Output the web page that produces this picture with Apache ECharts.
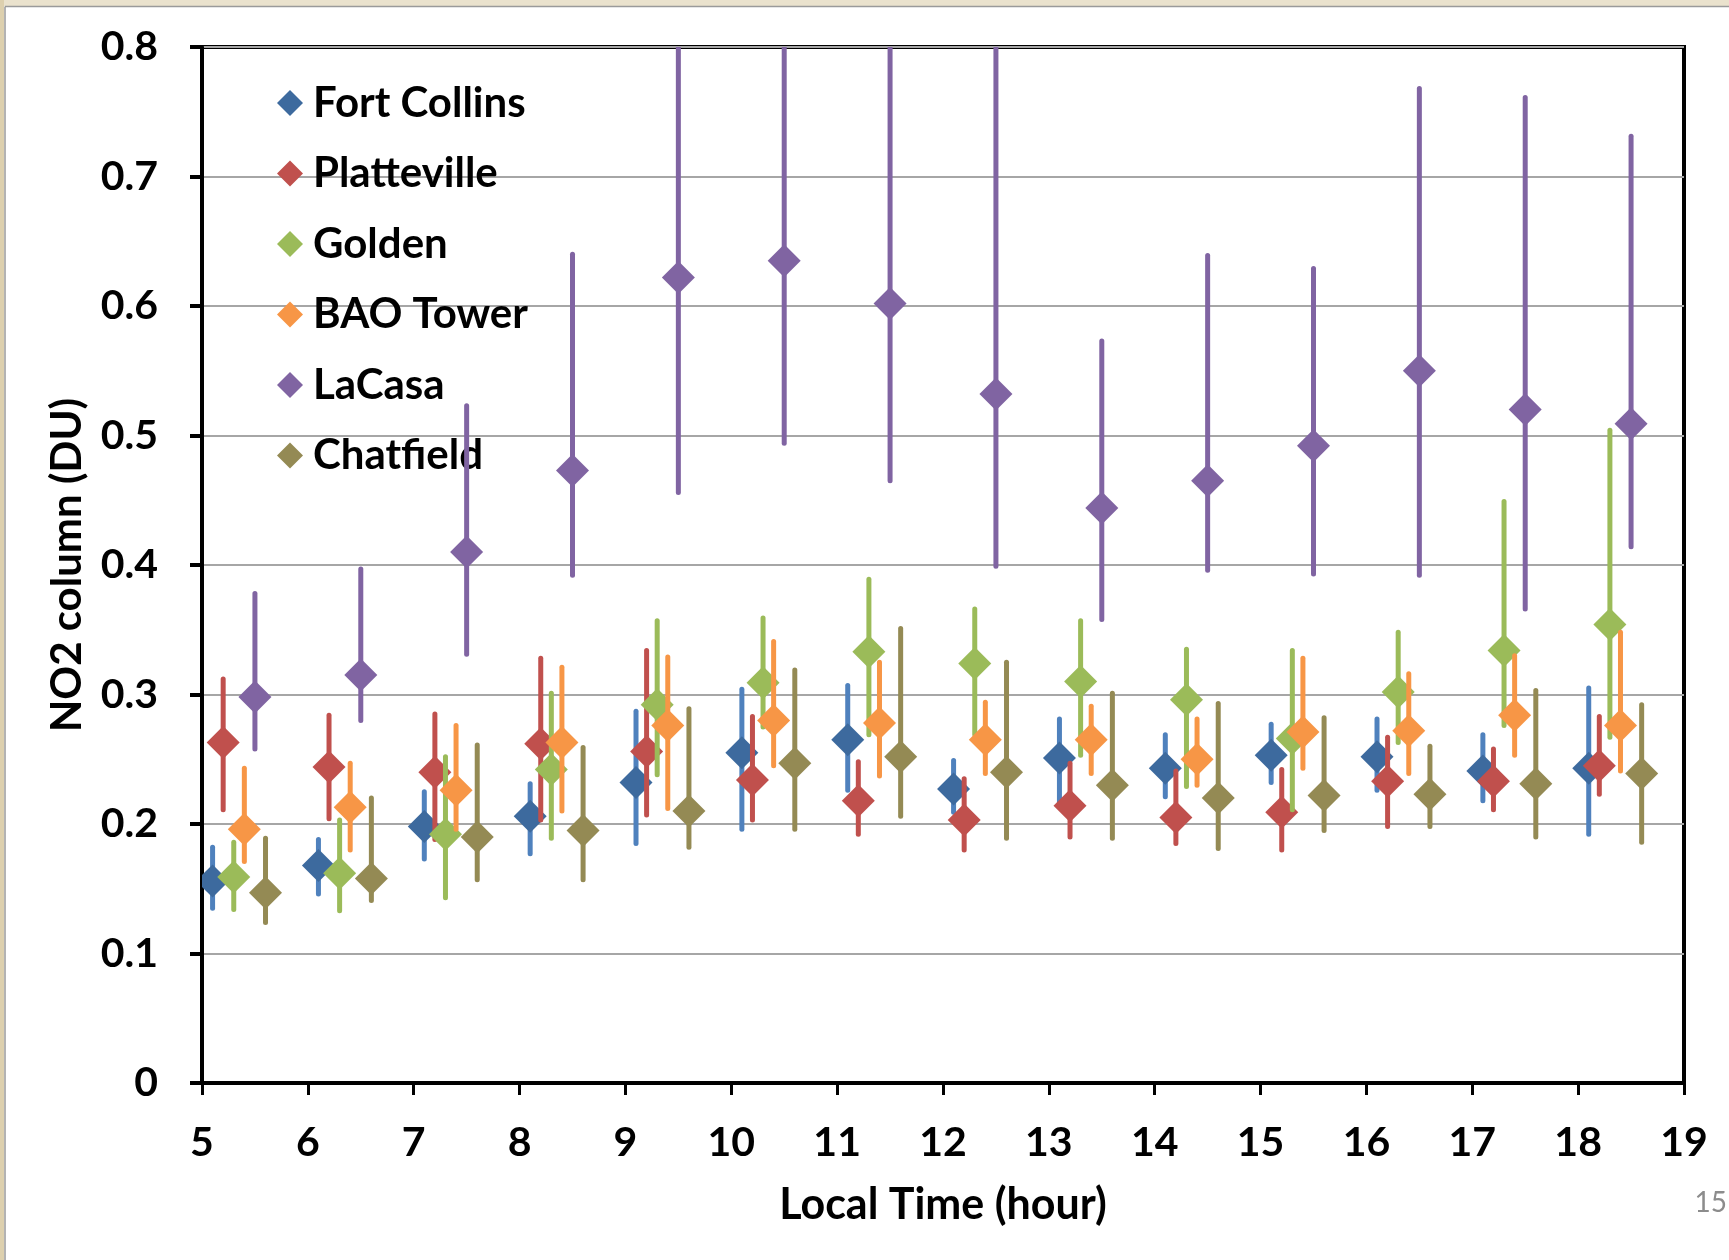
<!DOCTYPE html>
<html>
<head>
<meta charset="utf-8">
<title>NO2 column by local time</title>
<script src="https://cdn.jsdelivr.net/npm/echarts@6/dist/echarts.min.js"></script>
<style>
  html, body { margin: 0; padding: 0; background: #ffffff; }
  #chart { width: 1729px; height: 1260px; }
</style>
</head>
<body>
<div id="chart"></div>
<script>
// Hour bins (local time) and station order
const hours = [5, 6, 7, 8, 9, 10, 11, 12, 13, 14, 15, 16, 17, 18];
const stations = ['Fort Collins', 'Platteville', 'Golden', 'BAO Tower', 'LaCasa', 'Chatfield'];
const yTicks = [0, 0.1, 0.2, 0.3, 0.4, 0.5, 0.6, 0.7, 0.8];

// Mean NO2 column (DU) with lower / upper error bar ends
const fortCollinsMean = [0.156, 0.168, 0.198, 0.206, 0.232, 0.255, 0.265, 0.227, 0.251, 0.243, 0.253, 0.252, 0.241, 0.243];
const fortCollinsLow  = [0.135, 0.146, 0.173, 0.177, 0.185, 0.196, 0.226, 0.209, 0.216, 0.221, 0.232, 0.226, 0.218, 0.192];
const fortCollinsHigh = [0.182, 0.188, 0.225, 0.231, 0.287, 0.304, 0.307, 0.249, 0.281, 0.269, 0.277, 0.281, 0.269, 0.305];

const plattevilleMean = [0.263, 0.244, 0.240, 0.262, 0.256, 0.234, 0.218, 0.203, 0.214, 0.205, 0.209, 0.233, 0.233, 0.245];
const plattevilleLow  = [0.211, 0.204, 0.188, 0.203, 0.207, 0.203, 0.192, 0.180, 0.190, 0.185, 0.180, 0.198, 0.211, 0.223];
const plattevilleHigh = [0.312, 0.284, 0.285, 0.328, 0.334, 0.283, 0.248, 0.235, 0.247, 0.241, 0.242, 0.267, 0.258, 0.283];

const goldenMean = [0.159, 0.162, 0.192, 0.242, 0.292, 0.309, 0.333, 0.324, 0.310, 0.296, 0.266, 0.302, 0.334, 0.354];
const goldenLow  = [0.134, 0.133, 0.143, 0.189, 0.238, 0.275, 0.269, 0.269, 0.253, 0.229, 0.211, 0.263, 0.276, 0.267];
const goldenHigh = [0.186, 0.203, 0.252, 0.301, 0.357, 0.359, 0.389, 0.366, 0.357, 0.335, 0.334, 0.348, 0.449, 0.504];

const baoTowerMean = [0.196, 0.213, 0.226, 0.263, 0.276, 0.280, 0.278, 0.265, 0.265, 0.250, 0.271, 0.272, 0.284, 0.276];
const baoTowerLow  = [0.171, 0.180, 0.196, 0.210, 0.212, 0.245, 0.237, 0.239, 0.239, 0.230, 0.243, 0.239, 0.253, 0.241];
const baoTowerHigh = [0.243, 0.247, 0.276, 0.321, 0.329, 0.341, 0.325, 0.294, 0.291, 0.281, 0.328, 0.316, 0.330, 0.348];

const laCasaMean = [0.298, 0.315, 0.410, 0.473, 0.622, 0.635, 0.602, 0.532, 0.444, 0.465, 0.492, 0.550, 0.520, 0.509];
const laCasaLow  = [0.258, 0.280, 0.331, 0.392, 0.456, 0.494, 0.465, 0.399, 0.358, 0.396, 0.393, 0.392, 0.366, 0.414];
const laCasaHigh = [0.378, 0.397, 0.523, 0.640, 0.800, 0.800, 0.800, 0.800, 0.573, 0.639, 0.629, 0.768, 0.761, 0.731];

const chatfieldMean = [0.147, 0.158, 0.190, 0.195, 0.210, 0.247, 0.252, 0.240, 0.230, 0.220, 0.222, 0.223, 0.231, 0.239];
const chatfieldLow  = [0.124, 0.141, 0.157, 0.157, 0.182, 0.196, 0.206, 0.189, 0.189, 0.181, 0.195, 0.198, 0.190, 0.186];
const chatfieldHigh = [0.189, 0.220, 0.261, 0.259, 0.289, 0.319, 0.351, 0.325, 0.301, 0.293, 0.282, 0.260, 0.303, 0.292];

const stationData = [
  [fortCollinsMean, fortCollinsLow, fortCollinsHigh],
  [plattevilleMean, plattevilleLow, plattevilleHigh],
  [goldenMean, goldenLow, goldenHigh],
  [baoTowerMean, baoTowerLow, baoTowerHigh],
  [laCasaMean, laCasaLow, laCasaHigh],
  [chatfieldMean, chatfieldLow, chatfieldHigh]
];

// Styling
const barColors    = ['#4F81BD', '#C0504D', '#9BBB59', '#F79646', '#8064A2', '#948A54'];
const markerColors = ['#3D6A9E', '#C0504D', '#9BBB59', '#F79646', '#8064A2', '#948A54'];
const hourShift = 0.1;       // each station is nudged right within the hour
const FONT = 'Lato, "Open Sans", "Liberation Sans", sans-serif';

const series = stations.map((name, si) => {
  const [mean, low, high] = stationData[si];
  const data = hours.map((h, i) => [h + hourShift * (si + 1), mean[i], low[i], high[i]]);
  return {
    name: name,
    type: 'custom',
    clip: true,
    itemStyle: { color: markerColors[si] },
    encode: { x: 0, y: 1 },
    data: data,
    z: 3 + si,
    renderItem: function (params, api) {
      const x = api.value(0);
      const pm = api.coord([x, api.value(1)]);
      const pl = api.coord([x, api.value(2)]);
      const ph = api.coord([x, api.value(3)]);
      const r = 16.5;
      return {
        type: 'group',
        children: [
          {
            type: 'line',
            shape: { x1: pl[0], y1: pl[1], x2: ph[0], y2: ph[1] },
            style: { stroke: barColors[si], lineWidth: 5, lineCap: 'round' }
          },
          {
            type: 'polygon',
            shape: { points: [[pm[0], pm[1] - r], [pm[0] + r, pm[1]], [pm[0], pm[1] + r], [pm[0] - r, pm[1]]] },
            style: { fill: markerColors[si] }
          }
        ]
      };
    }
  };
});

const chart = echarts.init(document.getElementById('chart'), null, { renderer: 'canvas' });

chart.setOption({
  backgroundColor: '#ffffff',
  animation: false,
  textStyle: { fontFamily: FONT },
  graphic: [
    // slide frame: beige edge strips with a thin grey rule
    { type: 'rect', shape: { x: 0, y: 0, width: 1729, height: 6 }, style: { fill: '#EAE2CD' }, z: -10 },
    { type: 'rect', shape: { x: 0, y: 0, width: 4, height: 1260 }, style: { fill: '#DDD0AE' }, z: -10 },
    { type: 'line', shape: { x1: 5, y1: 6.5, x2: 1729, y2: 6.5 }, style: { stroke: '#9a9a9a', lineWidth: 1.5 }, z: -9 },
    { type: 'line', shape: { x1: 5, y1: 6.5, x2: 5, y2: 1260 }, style: { stroke: '#9a9a9a', lineWidth: 1.5 }, z: -9 },
    // slide number
    {
      type: 'text', right: 2, top: 1189,
      style: { text: '15', fill: '#8C8C8C', font: '28px ' + FONT }
    }
  ],
  grid: {
    left: 202, right: 45, top: 47, bottom: 177,
    show: true, borderColor: '#000000', borderWidth: 4, backgroundColor: 'transparent'
  },
  legend: {
    orient: 'vertical',
    left: 272, top: 77,
    icon: 'diamond',
    itemWidth: 26, itemHeight: 26,
    itemGap: 28.5,
    selectedMode: false,
    data: stations,
    textStyle: { fontFamily: FONT, fontWeight: 'bold', fontSize: 42, color: '#000000', padding: [0, 0, 0, 5] }
  },
  xAxis: {
    type: 'value',
    min: 5, max: 19, interval: 1,
    name: 'Local Time (hour)',
    nameLocation: 'middle',
    nameGap: 101,
    nameTextStyle: { fontFamily: FONT, fontWeight: 'bold', fontSize: 43, color: '#000000' },
    axisLine: { show: true, onZero: false, lineStyle: { color: '#000000', width: 4 } },
    axisTick: { show: true, inside: false, length: 12, lineStyle: { color: '#000000', width: 3 } },
    axisLabel: { margin: 39, fontFamily: FONT, fontWeight: 'bold', fontSize: 41, color: '#000000' },
    splitLine: { show: false }
  },
  yAxis: {
    type: 'value',
    min: 0, max: 0.8, interval: 0.1,
    name: 'NO2 column (DU)',
    nameLocation: 'middle',
    nameGap: 114,
    nameTextStyle: { fontFamily: FONT, fontWeight: 'bold', fontSize: 42, color: '#000000' },
    axisLine: { show: true, lineStyle: { color: '#000000', width: 4 } },
    axisTick: { show: true, inside: false, length: 12, lineStyle: { color: '#000000', width: 4 } },
    axisLabel: {
      margin: 44, fontFamily: FONT, fontWeight: 'bold', fontSize: 41, color: '#000000',
      formatter: function (v) {
        const t = yTicks.find(k => Math.abs(k - v) < 1e-9);
        return t === 0 ? '0' : (t !== undefined ? t.toFixed(1) : '');
      }
    },
    splitLine: { show: true, lineStyle: { color: '#A6A6A6', width: 2 } }
  },
  series: series
});
</script>
</body>
</html>
